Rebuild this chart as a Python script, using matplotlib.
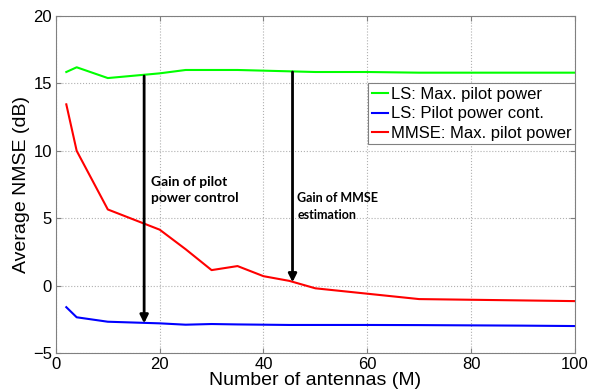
import matplotlib
matplotlib.use('Agg')
import matplotlib.pyplot as plt

plt.rcParams['font.family'] = ['Liberation Sans', 'DejaVu Sans']

# NMSE (dB) against number of base station antennas
antennas = [2, 4, 10, 20, 25, 30, 35, 40, 45, 50, 60, 70, 80, 90, 100]
ls_max = [15.85, 16.2, 15.4, 15.75, 16.0, 16.0, 16.0, 15.95, 15.9, 15.85, 15.85, 15.8, 15.8, 15.8, 15.8]
ls_pc = [-1.6, -2.35, -2.68, -2.8, -2.9, -2.85, -2.88, -2.9, -2.92, -2.92, -2.92, -2.93, -2.95, -2.97, -3.0]
mmse_max = [13.45, 10.0, 5.65, 4.15, 2.7, 1.15, 1.45, 0.7, 0.35, -0.2, -0.6, -1.0, -1.05, -1.1, -1.15]

# arrows: (x, top, bottom)
arrow_pc = (17, 15.55, -2.8)
arrow_mmse = (45.6, 15.85, 0.25)

fig = plt.figure(figsize=(5.95, 3.92), dpi=100)
ax = fig.add_axes([0.094, 0.0995, 0.872, 0.8595])

ax.plot(antennas, ls_max, color='#00ff00', lw=1.5, label='LS: Max. pilot power')
ax.plot(antennas, ls_pc, color='#0000ff', lw=1.5, label='LS: Pilot power cont.')
ax.plot(antennas, mmse_max, color='#ff0000', lw=1.5, label='MMSE: Max. pilot power')

for x, top, bot in (arrow_pc, arrow_mmse):
    ax.annotate('', xy=(x, bot), xytext=(x, top),
                arrowprops=dict(arrowstyle='-|>', color='black', lw=2,
                                mutation_scale=12, shrinkA=0, shrinkB=0))

ax.text(18.3, 7.1, 'Gain of pilot\npower control', fontsize=10, fontweight='bold',
        family=['Lato', 'DejaVu Sans'], va='center', linespacing=1.45)
ax.text(46.5, 5.9, 'Gain of MMSE\nestimation', fontsize=9, fontweight='bold',
        family=['Lato', 'DejaVu Sans'], va='center', linespacing=1.5)

ax.set_xlim(0, 100)
ax.set_ylim(-5, 20)
ax.set_xticks([0, 20, 40, 60, 80, 100])
ax.set_yticks([-5, 0, 5, 10, 15, 20])
ax.grid(True, ls=':', color='#b0b0b0', lw=0.8)
ax.tick_params(direction='in', labelsize=12, top=True, right=True, color='#808080', pad=3)
for s in ax.spines.values():
    s.set_color('#808080')

ax.set_xlabel('Number of antennas (M)', fontsize=14, labelpad=0)
ax.set_ylabel('Average NMSE (dB)', fontsize=14, labelpad=2)

leg = ax.legend(loc='upper right', bbox_to_anchor=(1.0, 0.8), fontsize=12, handlelength=1.0,
                handletextpad=0.15, borderpad=0.2, labelspacing=0.28, fancybox=False,
                framealpha=1, borderaxespad=0)
leg.get_frame().set_edgecolor('#808080')
leg.get_frame().set_linewidth(0.8)

fig.savefig('out.png', dpi=100)
